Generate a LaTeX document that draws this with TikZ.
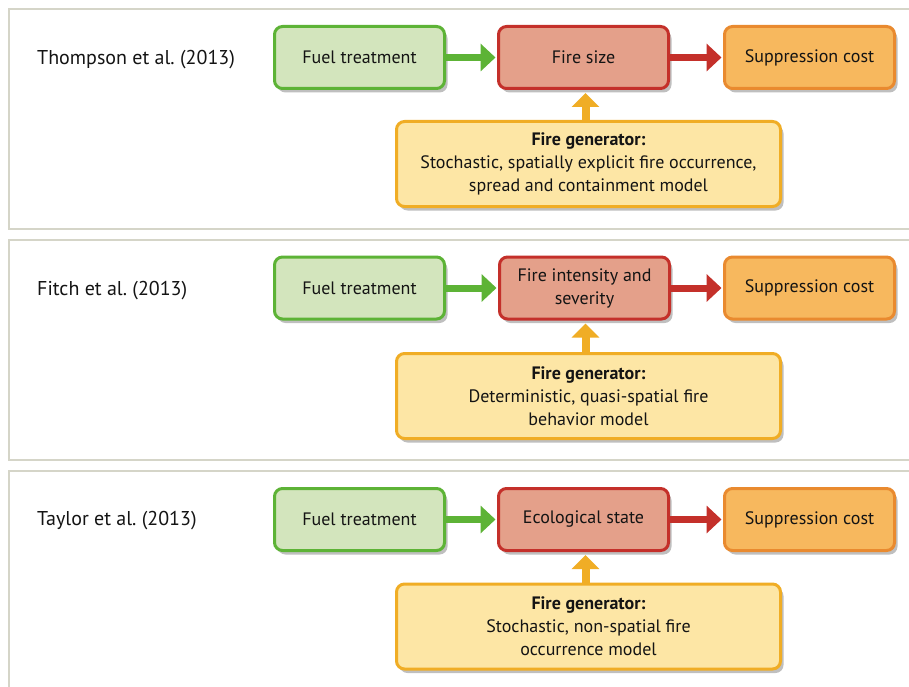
\documentclass[tikz,border=0pt]{standalone}
\usepackage{fontspec}
\setmainfont{PT Sans}
\frenchspacing
\usetikzlibrary{arrows.meta,shadows}
\definecolor{gline}{HTML}{5DB336}
\definecolor{gfill}{HTML}{D3E5BD}
\definecolor{rline}{HTML}{C4302A}
\definecolor{rfill}{HTML}{E4A08A}
\definecolor{oline}{HTML}{E98A2F}
\definecolor{ofill}{HTML}{F7B85E}
\definecolor{yline}{HTML}{F0AD25}
\definecolor{yfill}{HTML}{FDE6A5}
\definecolor{panelline}{HTML}{D5D5C8}
\definecolor{txt}{HTML}{141414}
\begin{document}
\begin{tikzpicture}[x=1pt,y=-1pt,
  basebox/.style={rounded corners=8pt, line width=3pt, align=center, inner sep=2pt,
    text=txt, font=\fontsize{18}{23}\selectfont,
    drop shadow={shadow xshift=3pt, shadow yshift=-4pt, opacity=0.25, fill=black}},
  box/.style={basebox, minimum width=170pt, minimum height=62pt},
  fuelbox/.style={box, draw=gline, fill=gfill},
  firebox/.style={box, draw=rline, fill=rfill},
  costbox/.style={box, draw=oline, fill=ofill},
  genbox/.style={basebox, draw=yline, fill=yfill, minimum width=384pt, minimum height=85pt},
  panel/.style={draw=panelline, line width=1.5pt, fill=white},
  study/.style={anchor=west, inner sep=0pt, text=txt, font=\fontsize{20}{24}\selectfont},
  garrow/.style={draw=gline, line width=7pt, -{Triangle[width=27pt,length=15pt]}, shorten >=1.5pt},
  rarrow/.style={draw=rline, line width=7pt, -{Triangle[width=27pt,length=15pt]}, shorten >=1.5pt},
  yarrow/.style={draw=yline, line width=8pt, -{Triangle[width=27pt,length=14pt]}, shorten >=3pt}
]
\useasboundingbox (0,0) rectangle (909,687);
\clip (0,0) rectangle (909,687);
\fill[white] (0,0) rectangle (909,687);

% panels
\draw[panel] (9,9) rectangle (920,229);
\draw[panel] (9,240) rectangle (920,460);
\draw[panel] (9,471) rectangle (920,700);

% row 1
\node[study] (s1) at (37,60) {Thompson et al. (2013)};
\node[fuelbox] (f1) at (359.5,57.5) {Fuel treatment};
\node[firebox] (x1) at (583.5,57.5) {Fire size};
\node[costbox] (c1) at (809.5,57.5) {Suppression cost};
\node[genbox] (g1) at (588.5,164) {\textbf{Fire generator:}\\Stochastic, spatially explicit fire occurrence,\\spread and containment model};
\draw[garrow] (f1.east) -- (x1.west);
\draw[rarrow] (x1.east) -- (c1.west);
\draw[yarrow] ([xshift=-3pt]g1.north) -- ([xshift=-3pt]g1.north |- x1.south);

% row 2
\node[study] (s2) at (37,291) {Fitch et al. (2013)};
\node[fuelbox] (f2) at (359.5,288) {Fuel treatment};
\node[firebox] (x2) at (584.5,288) {Fire intensity and\\severity};
\node[costbox] (c2) at (809.5,288) {Suppression cost};
\node[genbox] (g2) at (588.5,396) {\textbf{Fire generator:}\\Deterministic, quasi-spatial fire\\behavior model};
\draw[garrow] (f2.east) -- (x2.west);
\draw[rarrow] (x2.east) -- (c2.west);
\draw[yarrow] ([xshift=-3pt]g2.north) -- ([xshift=-3pt]g2.north |- x2.south);

% row 3
\node[study] (s3) at (37,521) {Taylor et al. (2013)};
\node[fuelbox] (f3) at (359.5,519.5) {Fuel treatment};
\node[firebox] (x3) at (583.5,519.5) {Ecological state};
\node[costbox] (c3) at (809.5,519.5) {Suppression cost};
\node[genbox] (g3) at (588.5,626.5) {\textbf{Fire generator:}\\Stochastic, non-spatial fire\\occurrence model};
\draw[garrow] (f3.east) -- (x3.west);
\draw[rarrow] (x3.east) -- (c3.west);
\draw[yarrow] ([xshift=-3pt]g3.north) -- ([xshift=-3pt]g3.north |- x3.south);
\end{tikzpicture}
\end{document}
